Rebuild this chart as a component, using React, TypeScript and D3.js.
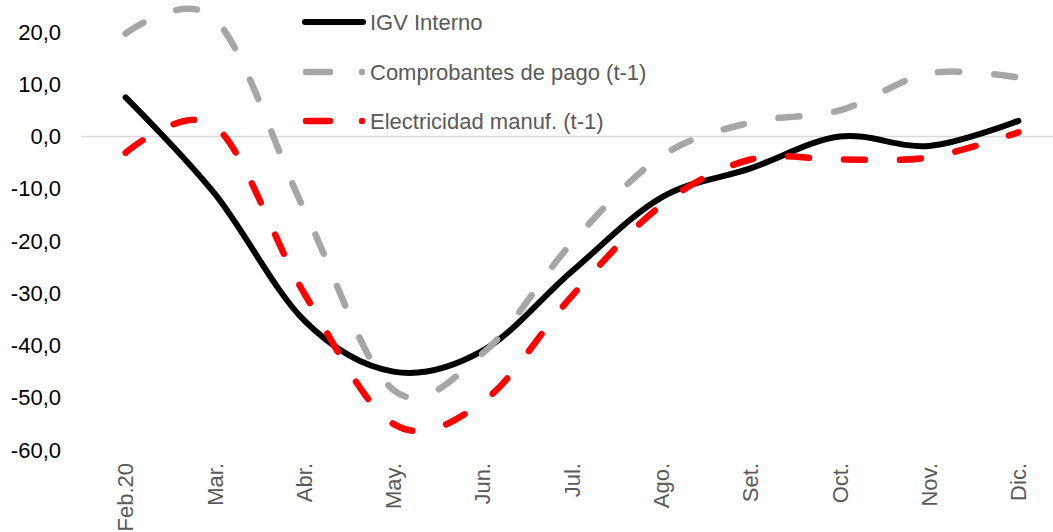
import React, { useEffect, useRef } from 'react';
import * as d3 from 'd3';

const months = ['Feb.20', 'Mar.', 'Abr.', 'May.', 'Jun.', 'Jul.', 'Ago.', 'Set.', 'Oct.', 'Nov.', 'Dic.'];
const igvInterno = [7.5, -11, -35.2, -45, -41, -25.8, -11.7, -6.1, 0, -1.8, 3];
const comprobantes = [19.7, 22.5, -14, -48.5, -41.5, -20.3, -3.8, 2.7, 5, 12.1, 11.3];
const electricidad = [-3.1, 2, -30, -55, -50.8, -30.5, -13.2, -4.4, -4.4, -4, 0.8];
const yTicks = [20, 10, 0, -10, -20, -30, -40, -50, -60];

const seriesNames = ['IGV Interno', 'Comprobantes de pago (t-1)', 'Electricidad manuf. (t-1)'];
const seriesColors = ['#000000', '#a6a6a6', '#ff0000'];

const App = () => {
  const svgRef = useRef<SVGSVGElement>(null);

  useEffect(() => {
    const width = 1053;
    const height = 532;
    const font = '"Liberation Sans", Arial, sans-serif';
    const fontSize = 22;

    const svg = d3.select(svgRef.current);
    svg.selectAll('*').remove();
    svg.attr('width', width).attr('height', height);

    const x = d3.scalePoint<string>().domain(months).range([81, 1063]).padding(0.5);
    const y = d3.scaleLinear().domain([-60, 20]).range([450, 32]);

    // zero line
    svg.append('line')
      .attr('x1', 81)
      .attr('x2', width)
      .attr('y1', y(0))
      .attr('y2', y(0))
      .attr('stroke', '#d9d9d9')
      .attr('stroke-width', 1.5);

    // y axis labels
    svg.append('g')
      .selectAll('text')
      .data(yTicks)
      .join('text')
      .attr('x', 61)
      .attr('y', d => y(d))
      .attr('dy', '0.35em')
      .attr('text-anchor', 'end')
      .attr('font-family', font)
      .attr('font-size', fontSize)
      .attr('fill', '#000')
      .text(d => d3.format('.1f')(d).replace('.', ',').replace('−', '-'));

    // x axis labels
    svg.append('g')
      .selectAll('text')
      .data(months)
      .join('text')
      .attr('transform', d => `translate(${x(d)},463) rotate(-90)`)
      .attr('dy', '0.35em')
      .attr('text-anchor', 'end')
      .attr('font-family', font)
      .attr('font-size', fontSize)
      .attr('fill', '#595959')
      .text(d => d);

    const line = d3.line<number>()
      .x((_, i) => x(months[i]) as number)
      .y(d => y(d))
      .curve(d3.curveCardinal.tension(0));

    const series = [igvInterno, comprobantes, electricidad];
    series.forEach((data, i) => {
      svg.append('path')
        .datum(data)
        .attr('fill', 'none')
        .attr('stroke', seriesColors[i])
        .attr('stroke-width', i === 0 ? 6 : 6.5)
        .attr('stroke-linecap', 'round')
        .attr('stroke-dasharray', i === 0 ? null : '21,35')
        .attr('d', line);
    });

    // legend
    const legendY = [22, 72, 121];
    seriesNames.forEach((name, i) => {
      const g = svg.append('g');
      if (i === 0) {
        g.append('line')
          .attr('x1', 305).attr('x2', 363)
          .attr('y1', legendY[i]).attr('y2', legendY[i])
          .attr('stroke', seriesColors[i])
          .attr('stroke-width', 6)
          .attr('stroke-linecap', 'round');
      } else {
        g.append('line')
          .attr('x1', 306).attr('x2', 330)
          .attr('y1', legendY[i]).attr('y2', legendY[i])
          .attr('stroke', seriesColors[i])
          .attr('stroke-width', 6.5)
          .attr('stroke-linecap', 'round');
        g.append('circle')
          .attr('cx', 362)
          .attr('cy', legendY[i])
          .attr('r', 3.2)
          .attr('fill', seriesColors[i]);
      }
      g.append('text')
        .attr('x', 370)
        .attr('y', legendY[i])
        .attr('dy', '0.35em')
        .attr('font-family', font)
        .attr('font-size', fontSize)
        .attr('fill', '#595959')
        .text(name);
    });
  }, []);

  return <svg ref={svgRef} style={{ position: 'absolute', left: 0, top: 0, background: '#fff' }} />;
};

export default App;
